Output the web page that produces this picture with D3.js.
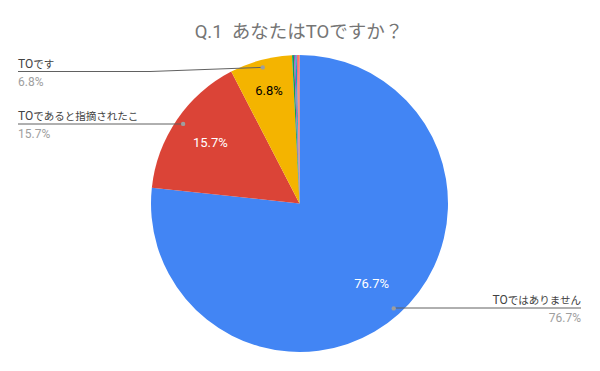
<!DOCTYPE html>
<html><head><meta charset="utf-8">
<script src="https://cdn.jsdelivr.net/npm/d3@7"></script>
<style>body{margin:0;background:#fff}svg{display:block;font-family:Roboto,"Noto Sans CJK JP",sans-serif}</style>
</head><body>
<script>
const title = "Q.1\u00a0\u00a0あなたはTOですか？";
const categories = ["TOではありません","TOであると指摘されたこ","TOです","その他1","その他2","その他3","その他4","その他5"];
const values = [76.7, 15.7, 6.8, 0.2, 0.15, 0.15, 0.15, 0.15];
const colors = ["#4285f4","#db4437","#f4b400","#0f9d58","#ab47bc","#00acc1","#f06292","#ff7043"];
const insideTextColors = ["#fff","#fff","#000"];

const W = 600, H = 371, cx = 299.5, cy = 203.5, R = 148.5;
const svg = d3.select("body").append("svg").attr("width", W).attr("height", H);

// write text with Latin runs and CJK runs at different sizes
function mixed(sel, str, latinSize, cjkSize) {
  const runs = str.match(/[\x00-\x7f\u00a0]+|[^\x00-\x7f\u00a0]+/g) || [];
  runs.forEach(r => {
    const isLatin = /^[\x00-\x7f\u00a0]+$/.test(r);
    sel.append("tspan").attr("font-size", isLatin ? latinSize : cjkSize).text(r);
  });
}

const t = svg.append("text").attr("x", 299).attr("y", 38).attr("text-anchor","middle")
  .attr("fill", "#757575");
mixed(t, title, 18.5, 18.5);

const data = categories.map((c,i)=>({c, v: values[i], col: colors[i], i}));
const pie = d3.pie().sort(null).value(d=>d.v);
const arcs = pie(data);
const arc = d3.arc().innerRadius(0).outerRadius(R);
const g = svg.append("g").attr("transform", `translate(${cx},${cy})`);
g.selectAll("path").data(arcs).join("path").attr("d", arc).attr("fill", d=>d.data.col);

const fmt = v => v.toFixed(1) + "%";
const mid = d => (d.startAngle + d.endAngle) / 2;
const pt = (a, r) => [cx + r*Math.sin(a), cy - r*Math.cos(a)];

// inside labels
const inR = [108, 108, 117];
arcs.slice(0,3).forEach((d,i)=>{
  const [x,y] = pt(mid(d), inR[i]);
  svg.append("text").attr("x", x).attr("y", y).attr("text-anchor","middle")
    .attr("dominant-baseline","central").attr("font-size", 13)
    .attr("fill", insideTextColors[i]).text(fmt(d.data.v));
});

// outside labels with leader lines
const lab = [
  {i:0, x:581, anchor:"end", lineY:308, bendX:null},
  {i:1, x:18, anchor:"start", lineY:124, bendX:null},
  {i:2, x:18, anchor:"start", lineY:71.5, bendX:150}
];
lab.forEach(L=>{
  const d = arcs[L.i];
  const [px,py] = pt(mid(d), 141);
  let pts;
  if (L.bendX !== null) pts = [[L.x, L.lineY],[L.bendX, L.lineY],[px,py]];
  else pts = [[L.x, L.lineY],[px, L.lineY]];
  svg.append("path").attr("d", d3.line()(pts)).attr("fill","none")
    .attr("stroke","#616161").attr("stroke-width",1);
  svg.append("circle").attr("cx",px).attr("cy",py).attr("r",2.2).attr("fill","#9e9e9e");
  const lt = svg.append("text").attr("x", L.x).attr("y", L.lineY - 4).attr("text-anchor", L.anchor)
    .attr("fill","#424242");
  mixed(lt, d.data.c, 12, 10.5);
  svg.append("text").attr("x", L.x).attr("y", L.lineY + 14).attr("text-anchor", L.anchor)
    .attr("font-size", 12).attr("fill","#9e9e9e").text(fmt(d.data.v));
});
</script>
</body></html>
